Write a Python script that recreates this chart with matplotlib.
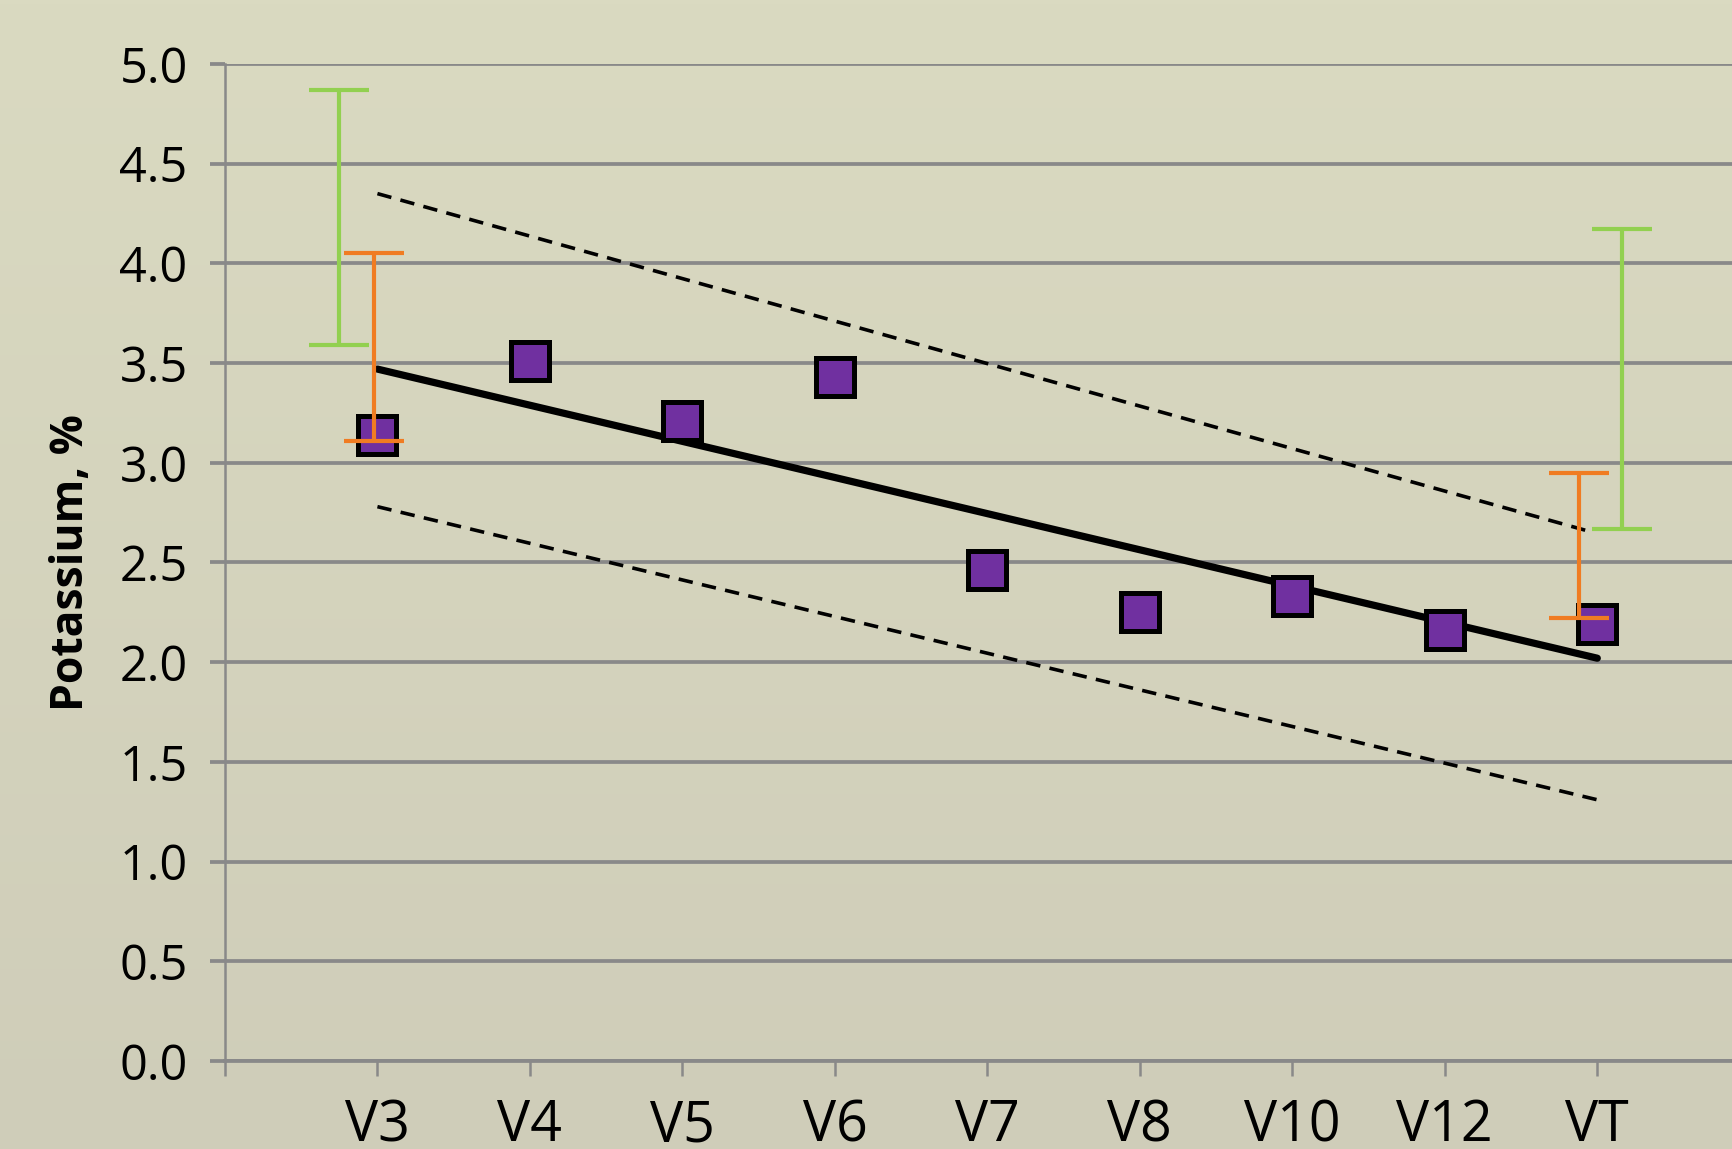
import numpy as np
import matplotlib
matplotlib.use("Agg")
import matplotlib.pyplot as plt

# stages and measured potassium
stages = ["V3", "V4", "V5", "V6", "V7", "V8", "V10", "V12", "VT"]
stage_x = [1, 2, 3, 4, 5, 6, 7, 8, 9]
potassium = [3.14, 3.51, 3.21, 3.43, 2.46, 2.25, 2.33, 2.16, 2.19]

# trend line and bounds (end points)
trend_x = [1, 9]
trend_y = [3.47, 2.02]
upper_x = [1, 8.93]
upper_y = [4.35, 2.66]
lower_x = [1, 9]
lower_y = [2.78, 1.31]

# sufficiency ranges (error bars)
green_x = [0.75, 9.16]
green_lo = [3.59, 2.67]
green_hi = [4.87, 4.17]
orange_x = [0.98, 8.88]
orange_lo = [3.11, 2.22]
orange_hi = [4.05, 2.95]

W, H, DPI = 1733, 1149, 200
fig = plt.figure(figsize=(W / DPI, H / DPI), dpi=DPI)

# background gradient
bg = fig.add_axes([0, 0, 1, 1], zorder=-10)
top = np.array([218, 218, 193]) / 255
bot = np.array([207, 205, 185]) / 255
t = np.linspace(0, 1, 256)[:, None]
grad = top[None, :] * (1 - t) + bot[None, :] * t
bg.imshow(grad[:, None, :], aspect="auto", extent=[0, 1, 0, 1])
bg.axis("off")

ax = fig.add_axes([0.1298, 0.0766, 0.8702, 0.8677])
ax.patch.set_alpha(0)

grid_c = "#898989"
ax.set_xlim(0, 9.89)
ax.set_ylim(0, 5)
ax.set_yticks(np.arange(0, 5.01, 0.5))
ax.set_yticklabels([f"{v:.1f}" for v in np.arange(0, 5.01, 0.5)])
ax.set_xticks([0] + stage_x)
ax.set_xticklabels([""] + stages)
ax.grid(axis="y", color=grid_c, lw=1.35)
ax.set_axisbelow(True)
for s in ["top", "right"]:
    ax.spines[s].set_visible(False)
ax.spines["left"].set_color(grid_c)
ax.spines["left"].set_linewidth(0.9)
ax.spines["bottom"].set_color(grid_c)
ax.spines["bottom"].set_linewidth(1.35)
ax.tick_params(axis="y", colors=grid_c, length=5.4, width=1.35, pad=8,
               labelcolor="black", labelsize=17.5)
ax.tick_params(axis="x", colors=grid_c, length=5.4, width=0.9, pad=8,
               labelcolor="black", labelsize=20)
for lab in ax.get_xticklabels() + ax.get_yticklabels():
    lab.set_family("Open Sans")

ax.set_ylabel("Potassium, %", fontsize=16, fontweight="bold",
              family="Open Sans", labelpad=9)

# error bars
g_mid = [(a + b) / 2 for a, b in zip(green_lo, green_hi)]
g_err = [(b - a) / 2 for a, b in zip(green_lo, green_hi)]
ax.errorbar(green_x, g_mid, yerr=g_err, fmt="none", ecolor="#92D050",
            elinewidth=1.5, capsize=10.8, capthick=1.5, zorder=3)
o_mid = [(a + b) / 2 for a, b in zip(orange_lo, orange_hi)]
o_err = [(b - a) / 2 for a, b in zip(orange_lo, orange_hi)]
ax.errorbar(orange_x, o_mid, yerr=o_err, fmt="none", ecolor="#F07C22",
            elinewidth=1.5, capsize=10.8, capthick=1.5, zorder=5)

# trend and bounds
ax.plot(trend_x, trend_y, color="black", lw=2.6, solid_capstyle="round", zorder=4)
ax.plot(upper_x, upper_y, color="black", lw=1.3, dashes=(4, 2.6), zorder=4)
ax.plot(lower_x, lower_y, color="black", lw=1.3, dashes=(4, 2.6), zorder=4)

# data points
ax.plot(stage_x, potassium, ls="none", marker="s", ms=13.5, mfc="#7030A0",
        mec="black", mew=1.8, zorder=4.5)

fig.savefig("out.png", dpi=DPI)
